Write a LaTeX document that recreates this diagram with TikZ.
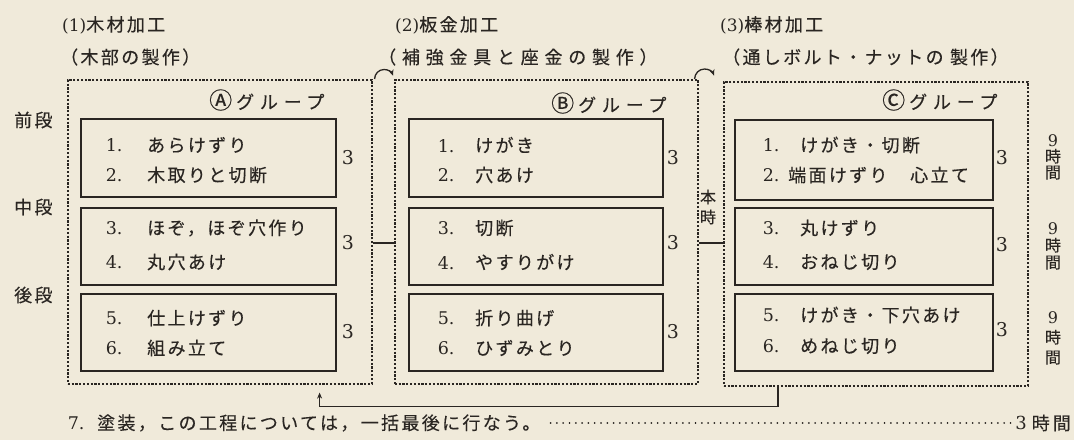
\documentclass[tikz,border=0pt]{standalone}
\usepackage{fontspec}
\usetikzlibrary{arrows.meta}
\newfontfamily\jp{Noto Sans CJK JP}[LetterSpace=13,FakeBold=0.3]
\newfontfamily\jpw{Noto Sans CJK JP}[LetterSpace=32,FakeBold=0.3]
\newfontfamily\jpn{Noto Sans CJK JP}[FakeBold=0.3]
\newfontfamily\num{DejaVu Serif}
\definecolor{bgc}{RGB}{240,234,218}
\definecolor{ink}{RGB}{42,38,34}
\newcommand\sz[1]{\fontsize{#1}{#1}\selectfont}
\newcommand\itm[3]{\makebox[#1][l]{\num\sz{17.5} #2}{\jp #3}}
\begin{document}
\begin{tikzpicture}[x=1pt,y=-1pt,
  every node/.style={inner sep=0pt, text=ink},
  grp/.style={draw=ink, line width=1.6pt, dash pattern=on 2.2pt off 1.6pt, anchor=north west, minimum width=304pt, minimum height=304pt},
  itembox/.style={draw=ink, line width=1.6pt, anchor=north west, minimum width=255pt, minimum height=77pt},
  txt/.style={anchor=west, font=\sz{18}},
  hrs/.style={font=\sz{19}\num},
  vstack/.style={align=center, font=\sz{16}},
  conn/.style={draw=ink, line width=1.3pt},
  arr/.style={conn, -{Stealth[length=6pt,width=5pt]}},
  leader/.style={draw=ink, line width=1.8pt, dash pattern=on 0.1pt off 6.2pt, line cap=round}
]
\fill[bgc] (0,0) rectangle (1074,440);
\useasboundingbox (0,0) rectangle (1074,440);

% titles
\node[txt] (t1) at (62,25) {{\num\sz{17}(1)}\jp 木材加工};
\node[txt] (s1) at (60,57) {\jp （木部の製作）};
\node[txt] (t2) at (395,25) {{\num\sz{17}(2)}\jp 板金加工};
\node[txt] (s2) at (378,57) {\jpw （補強金具と座金の製作）};
\node[txt] (t3) at (720,25) {{\num\sz{17}(3)}\jp 棒材加工};
\node[txt] (s3) at (722,57) {\jp （通しボルト・ナットの 製作）};

% group frames
\node[grp] (GA) at (67,79) {};
\node[grp, minimum width=303pt] (GB) at (394,79) {};
\node[grp] (GC) at (723,81) {};

% group labels
\node[txt] (la) at (209,100) {{\jpn\sz{23}Ⓐ}\hspace{4pt}{\jpw グループ}};
\node[txt] (lb) at (551,103) {{\jpn\sz{23}Ⓑ}\hspace{4pt}{\jpw グループ}};
\node[txt] (lc) at (882,100) {{\jpn\sz{23}Ⓒ}\hspace{4pt}{\jpw グループ}};

% row labels
\node[txt] (r1) at (14,120) {\jp 前段};
\node[txt] (r2) at (14,207) {\jp 中段};
\node[txt] (r3) at (14,295) {\jp 後段};

% item boxes
\node[itembox, minimum height=78pt] (A1) at (80,118) {};
\node[itembox] (A2) at (80,207) {};
\node[itembox] (A3) at (80,293) {};
\node[itembox, minimum width=254pt, minimum height=78pt] (B1) at (408,118) {};
\node[itembox, minimum width=254pt] (B2) at (408,207) {};
\node[itembox, minimum width=254pt] (B3) at (408,293) {};
\node[itembox, minimum width=258pt, minimum height=80pt] (C1) at (734,119) {};
\node[itembox, minimum width=258pt] (C2) at (734,207) {};
\node[itembox, minimum width=258pt] (C3) at (734,293) {};

% items A
\node[txt] (a11) at (100,145) {\itm{47pt}{1.}{あらけずり}};
\node[txt] (a12) at (100,175) {\itm{47pt}{2.}{木取りと切断}};
\node[txt] (a21) at (100,228) {\itm{47pt}{3.}{ほぞ，ほぞ穴作り}};
\node[txt] (a22) at (100,262) {\itm{47pt}{4.}{丸穴あけ}};
\node[txt] (a31) at (100,318) {\itm{47pt}{5.}{仕上けずり}};
\node[txt] (a32) at (100,348) {\itm{47pt}{6.}{組み立て}};
% items B
\node[txt] (b11) at (432,145) {\itm{43pt}{1.}{けがき}};
\node[txt] (b12) at (432,175) {\itm{43pt}{2.}{穴あけ}};
\node[txt] (b21) at (432,228) {\itm{43pt}{3.}{切断}};
\node[txt] (b22) at (432,262) {\itm{43pt}{4.}{やすりがけ}};
\node[txt] (b31) at (432,318) {\itm{43pt}{5.}{折り曲げ}};
\node[txt] (b32) at (432,348) {\itm{43pt}{6.}{ひずみとり}};
% items C
\node[txt] (c11) at (757,145) {\itm{43pt}{1.}{けがき・切断}};
\node[txt] (c12) at (757,175) {\itm{31pt}{2.}{端面けずり　心立て}};
\node[txt] (c21) at (757,228) {\itm{43pt}{3.}{丸けずり}};
\node[txt] (c22) at (757,262) {\itm{43pt}{4.}{おねじ切り}};
\node[txt] (c31) at (757,315) {\itm{43pt}{5.}{けがき・下穴あけ}};
\node[txt] (c32) at (757,346) {\itm{43pt}{6.}{めねじ切り}};

% hours
\node[hrs] (a1h) at (348,158) {3};
\node[hrs] (a2h) at (348,243) {3};
\node[hrs] (a3h) at (348,332) {3};
\node[hrs] (b1h) at (673,158) {3};
\node[hrs] (b2h) at (673,243) {3};
\node[hrs] (b3h) at (673,332) {3};
\node[hrs] (c1h) at (1002,158) {3};
\node[hrs] (c2h) at (1002,245) {3};
\node[hrs] (c3h) at (1002,330) {3};

\node[vstack] (h1) at (1053,157) {{\num\sz{16}9}\\{\jpn 時}\\{\jpn 間}};
\node[vstack] (h2) at (1053,246) {{\num\sz{16}9}\\[1pt]{\jpn 時}\\[1pt]{\jpn 間}};
\node[vstack] (h3) at (1053,338) {{\num\sz{16}9}\\[4pt]{\jpn 時}\\[4pt]{\jpn 間}};

\node[vstack] (hj) at (708,207) {{\jpn 本}\\[4pt]{\jpn 時}};

% connectors
\draw[arr] ([xshift=2pt]GA.north east) arc[start angle=180, end angle=340, radius=9.5];
\draw[arr] ([xshift=-4pt]GB.north east) arc[start angle=180, end angle=340, radius=10];
\draw[conn] (GA.east |- a2h) -- (GB.west |- a2h);
\draw[conn] (GB.east |- a2h) -- (GC.west |- a2h);
\draw[arr] ([xshift=55pt]GC.south west) -- ++(0,20) -| ([xshift=-53pt,yshift=-8pt]GA.south east);

% bottom line
\node[txt] (n7) at (62,423) {\itm{35pt}{7.}{塗装，この工程については，一括最後に行なう。}};
\node[txt, anchor=east] (h7) at (1071,423) {{\num\sz{18}3}\hspace{5pt}{\jpn 時\hspace{3pt}間}};
\draw[leader] ([xshift=10pt]n7.east) -- ([xshift=-4pt]h7.west);
\end{tikzpicture}
\end{document}
